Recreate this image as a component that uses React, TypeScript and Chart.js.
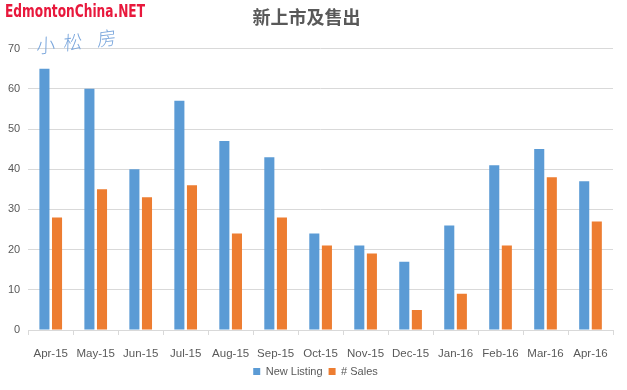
import React, { useEffect, useRef } from "react";
import { Chart, registerables } from "chart.js";

Chart.register(...registerables);

const categories = ["Apr-15", "May-15", "Jun-15", "Jul-15", "Aug-15", "Sep-15", "Oct-15", "Nov-15", "Dec-15", "Jan-16", "Feb-16", "Mar-16", "Apr-16"];
const newListing = [65, 60, 40, 57, 47, 43, 24, 21, 17, 26, 41, 45, 37];
const sales = [28, 35, 33, 36, 24, 28, 21, 19, 5, 9, 21, 38, 27];
const yTicks = [0, 10, 20, 30, 40, 50, 60, 70];
const titleText = "新上市及售出";
const watermarkText = "EdmontonChina.NET";
const handChars = ["小", "松", "房"];

const decorPlugin = {
  id: "decor",
  afterLayout(chart: any) {
    if (chart.legend) {
      chart.legend.left += 9;
      chart.legend.right += 9;
    }
  },
  afterDraw(chart: any) {
    const ctx = chart.ctx;
    ctx.save();
    ctx.fillStyle = "#e8183c";
    ctx.font = "bold 17px 'DejaVu Sans Condensed', 'DejaVu Sans'";
    ctx.textBaseline = "middle";
    ctx.textAlign = "left";
    ctx.translate(5, 13);
    const w = ctx.measureText(watermarkText).width;
    ctx.scale(140 / w, 1);
    ctx.fillText(watermarkText, 0, 0);
    ctx.restore();
    ctx.save();
    ctx.fillStyle = "#7aa6dc";
    ctx.font = "300 19px 'Noto Sans CJK SC'";
    ctx.textBaseline = "middle";
    ctx.textAlign = "center";
    const pos = [
      [46, 45],
      [73, 42],
      [107, 38],
    ];
    handChars.forEach((c, i) => {
      ctx.save();
      ctx.translate(pos[i][0], pos[i][1]);
      ctx.rotate(-0.12);
      ctx.transform(1, 0, -0.15, 1, 0, 0);
      ctx.fillText(c, 0, 0);
      ctx.restore();
    });
    ctx.restore();
  },
};

export default function App() {
  const ref = useRef<HTMLCanvasElement>(null);
  useEffect(() => {
    if (!ref.current) return;
    const chart = new Chart(ref.current, {
      type: "bar",
      data: {
        labels: categories,
        datasets: [
          { label: "New Listing", data: newListing, backgroundColor: "#5b9bd5" },
          { label: "# Sales", data: sales, backgroundColor: "#ed7d31" },
        ],
      },
      plugins: [decorPlugin],
      options: {
        animation: false,
        responsive: false,
        maintainAspectRatio: false,
        datasets: { bar: { categoryPercentage: 0.56, barPercentage: 0.8 } } as any,
        layout: { padding: { left: 0, right: 14, top: 0, bottom: 3 } },
        plugins: {
          title: {
            display: true,
            text: titleText,
            color: "#595959",
            font: { family: "'Noto Sans CJK SC'", size: 18, weight: "bold" },
            padding: { top: 6, bottom: 21 },
          },
          legend: {
            position: "bottom",
            labels: {
              boxWidth: 7,
              boxHeight: 7,
              padding: 6,
              color: "#595959",
              font: { family: "'Liberation Sans'", size: 11 },
            },
          },
          tooltip: { enabled: false },
        },
        scales: {
          x: {
            grid: { display: true, drawOnChartArea: false, drawTicks: true, tickLength: 5, color: "#d9d9d9", offset: true },
            border: { display: true, color: "#d9d9d9" },
            ticks: { color: "#595959", font: { family: "'Liberation Sans'", size: 11.5 }, padding: 12, maxRotation: 0, autoSkip: false },
            afterFit: (scale: any) => {
              scale.height = 30;
            },
          },
          y: {
            min: 0,
            max: 70,
            afterBuildTicks: (axis: any) => {
              axis.ticks = yTicks.map((v) => ({ value: v }));
            },
            grid: { color: "#d9d9d9", drawTicks: false },
            border: { display: false },
            ticks: { color: "#595959", font: { family: "'Liberation Sans'", size: 11 }, padding: 8 },
          },
        },
      },
    });
    return () => chart.destroy();
  }, []);
  return (
    <div style={{ position: "fixed", left: 0, top: 0, width: 627, height: 390, background: "#fff" }}>
      <canvas ref={ref} width={627} height={390} style={{ width: 627, height: 390 }} />
    </div>
  );
}
